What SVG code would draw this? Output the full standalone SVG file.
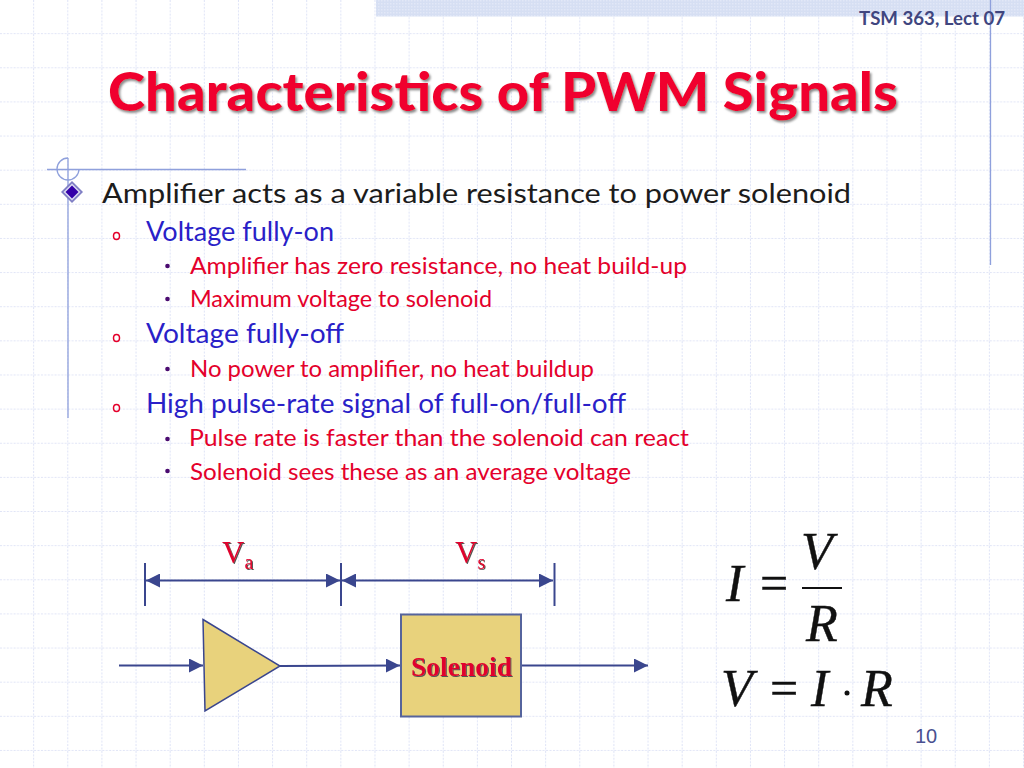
<svg xmlns="http://www.w3.org/2000/svg" width="1024" height="768" viewBox="0 0 1024 768">
<style>
.t{font-family:"Lato","Open Sans",sans-serif}
.l1{font-size:27px;fill:#1c1c1c}
.l2{font-size:26px;fill:#2a1fc8}
.l3{font-size:23px;fill:#e4002b}
.title{font-family:"Lato",sans-serif;font-weight:900;font-size:54px;fill:#f0002e;filter:url(#ts)}
.m{font-family:"Liberation Serif",serif;font-style:italic;fill:#111;font-size:52px;stroke:#111;stroke-width:.4}
.mr{font-family:"Liberation Serif",serif;fill:#111;font-size:50px;stroke:#111;stroke-width:.4}
.lab{font-family:"Liberation Serif",serif;fill:#e0062e;filter:url(#ss)}
.w{fill:none;stroke:#3a468e;stroke-width:2}
.dot{fill:#4a0a70}
.ring{fill:none;stroke:#e4002b;stroke-width:1.5}
.guide{stroke:#8fa0dc;stroke-width:1.3;fill:none}
</style>
<defs>
<pattern id="grid" width="34.133" height="34.133" patternUnits="userSpaceOnUse" x="0" y="0">
<path d="M34.133 0V34.133M0 34.133H34.133" stroke="#d6dcf4" stroke-width="1.6" stroke-dasharray="2 1.4" fill="none"/>
</pattern>
<pattern id="dots" width="3" height="3" patternUnits="userSpaceOnUse">
<rect width="3" height="3" fill="#d6dff3"/><rect width="1.5" height="1.5" fill="#e2e8f7"/>
</pattern>
<filter id="ts" x="-5%" y="-20%" width="110%" height="140%"><feDropShadow dx="1.5" dy="2" stdDeviation="0.8" flood-color="#8a8a8a"/></filter>
<filter id="ss" x="-10%" y="-20%" width="120%" height="140%"><feDropShadow dx="1" dy="1" stdDeviation="0.5" flood-color="#555"/></filter>
<marker id="a" viewBox="0 0 14 14" refX="14" refY="7" markerWidth="14" markerHeight="14" markerUnits="userSpaceOnUse" orient="auto-start-reverse"><path d="M0 0L14 7L0 14Z" fill="#3a468e"/></marker>
</defs>
<rect width="1024" height="768" fill="#fff"/>
<rect width="1024" height="768" fill="url(#grid)"/>
<rect x="376" y="0" width="648" height="16.500" fill="url(#dots)"/>
<g id="decor">
<path class="guide" d="M990.500 0V265"/>
<path class="guide" d="M47 169.500H246"/>
<path class="guide" d="M68 158V418" stroke-width="1.500"/>
<path class="guide" d="M68 158A11 11 0 1 0 79 169"/>
<path d="M72 181L83 192L72 203L61 192Z" fill="#7f7ec4"/>
<path d="M72 183.500L80.500 192L72 200.500L63.500 192Z" fill="#dcdcf2"/>
<path d="M72 185.500L78.500 192L72 198.500L65.500 192Z" fill="#3300a8"/>
</g>
<text class="t" x="859" y="25" font-size="18" font-weight="700" fill="#40467f" textLength="146" lengthAdjust="spacingAndGlyphs">TSM 363, Lect 07</text>
<text class="title" x="108" y="111" textLength="790" lengthAdjust="spacingAndGlyphs">Characteristics of PWM Signals</text>
<g id="bullets">
<ellipse class="ring" cx="116.500" cy="236" rx="3" ry="3.500"/>
<ellipse class="ring" cx="116.500" cy="338" rx="3" ry="3.500"/>
<ellipse class="ring" cx="116.500" cy="408" rx="3" ry="3.500"/>
<circle class="dot" cx="167.500" cy="266" r="2.300"/>
<circle class="dot" cx="167.500" cy="299" r="2.300"/>
<circle class="dot" cx="167.500" cy="369" r="2.300"/>
<circle class="dot" cx="167.500" cy="439" r="2.300"/>
<circle class="dot" cx="167.500" cy="471" r="2.300"/>
</g>
<g id="body">
<text class="t l1" x="102" y="203" textLength="749" lengthAdjust="spacingAndGlyphs">Amplifier acts as a variable resistance to power solenoid</text>
<text class="t l2" x="146" y="241" textLength="188" lengthAdjust="spacingAndGlyphs">Voltage fully-on</text>
<text class="t l3" x="190" y="274" textLength="497" lengthAdjust="spacingAndGlyphs">Amplifier has zero resistance, no heat build-up</text>
<text class="t l3" x="190" y="307" textLength="302" lengthAdjust="spacingAndGlyphs">Maximum voltage to solenoid</text>
<text class="t l2" x="146" y="343" textLength="198" lengthAdjust="spacingAndGlyphs">Voltage fully-off</text>
<text class="t l3" x="190" y="377" textLength="404" lengthAdjust="spacingAndGlyphs">No power to amplifier, no heat buildup</text>
<text class="t l2" x="146" y="413" textLength="480" lengthAdjust="spacingAndGlyphs">High pulse-rate signal of full-on/full-off</text>
<text class="t l3" x="189" y="446" textLength="500" lengthAdjust="spacingAndGlyphs">Pulse rate is faster than the solenoid can react</text>
<text class="t l3" x="190" y="480" textLength="441" lengthAdjust="spacingAndGlyphs">Solenoid sees these as an average voltage</text>
</g>
<g id="connectors">
<path class="w" d="M145 563V606"/>
<path class="w" d="M341 563V606"/>
<path class="w" d="M554.500 563V606"/>
<path class="w" d="M146 580.500H340" marker-start="url(#a)" marker-end="url(#a)"/>
<path class="w" d="M342 580.500H553" marker-start="url(#a)" marker-end="url(#a)"/>
<path class="w" d="M119 665.500H203" marker-end="url(#a)"/>
<path class="w" d="M280 666L400 665.500" marker-end="url(#a)"/>
<path class="w" d="M521 665.500H648" marker-end="url(#a)"/>
</g>
<g id="amplifier"><path d="M203 619.500L280 666L205 711Z" fill="#e8d27c" stroke="#3a468e" stroke-width="1.500"/></g>
<g id="solenoid">
<rect x="401" y="614.500" width="120" height="102" fill="#e8d27c" stroke="#56649c" stroke-width="2"/>
<text class="lab" x="411" y="676" font-size="28" font-weight="700" textLength="101" lengthAdjust="spacingAndGlyphs">Solenoid</text>
</g>
<g id="va"><text class="lab" x="222" y="563" font-size="31">V<tspan font-size="20" dy="6">a</tspan></text></g>
<g id="vs"><text class="lab" x="455" y="563" font-size="31">V<tspan font-size="20" dy="6">s</tspan></text></g>
<g id="formula">
<text class="m" x="726" y="601">I</text>
<text class="mr" x="760" y="600">=</text>
<text class="m" x="801" y="569">V</text>
<path d="M802 588H842" stroke="#111" stroke-width="2"/>
<text class="m" x="806" y="641">R</text>
<text class="m" x="721" y="706">V</text>
<text class="mr" x="770" y="705">=</text>
<text class="m" x="811" y="706">I</text>
<circle cx="847" cy="693" r="2.500" fill="#111"/>
<text class="m" x="861" y="706">R</text>
</g>
<text x="915" y="743" font-family="Liberation Sans,sans-serif" font-size="20" fill="#4a5090">10</text>
</svg>
